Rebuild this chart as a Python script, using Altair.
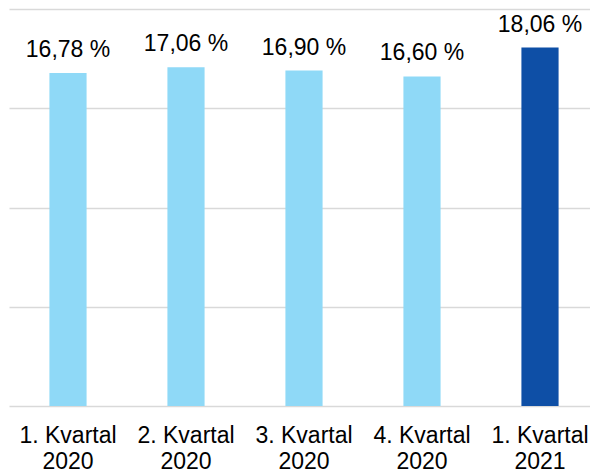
import altair as alt
import pandas as pd

quarters = ["1. Kvartal", "2. Kvartal", "3. Kvartal", "4. Kvartal", "1. Kvartal"]
years = ["2020", "2020", "2020", "2020", "2021"]
values = [16.78, 17.06, 16.90, 16.60, 18.06]
value_labels = ["16,78 %", "17,06 %", "16,90 %", "16,60 %", "18,06 %"]
y_ticks = [0, 5, 10, 15, 20]

categories = [q + "|" + y for q, y in zip(quarters, years)]
df = pd.DataFrame({
    "cat": categories,
    "year": years,
    "value": values,
    "label": value_labels,
})

x = alt.X(
    "cat:N",
    sort=categories,
    title=None,
    scale=alt.Scale(range=[0, 590], paddingInner=0.685, paddingOuter=0.3425),
    axis=alt.Axis(
        labelExpr="split(datum.label, '|')",
        labelAngle=0,
        labelFont="Liberation Sans",
        labelFontSize=23,
        labelColor="#000000",
        labelLineHeight=26,
        labelPadding=18,
        labelBaseline="top",
        ticks=False,
        domain=False,
        grid=False,
    ),
)
y = alt.Y(
    "value:Q",
    title=None,
    scale=alt.Scale(domain=[0, 20], nice=False),
    axis=alt.Axis(
        values=y_ticks,
        labels=False,
        ticks=False,
        domain=False,
        grid=True,
        gridColor="#d9d9d9",
        gridWidth=1.5,
    ),
)

bars = alt.Chart(df).mark_bar().encode(
    x=x,
    y=y,
    color=alt.Color(
        "year:N",
        scale=alt.Scale(domain=["2020", "2021"], range=["#8fd9f7", "#0e4fa6"]),
        legend=None,
    ),
)

text = alt.Chart(df).mark_text(
    font="Liberation Sans", fontSize=23, color="#000000", dy=-16, baseline="alphabetic"
).encode(x=alt.X("cat:N", sort=categories), y="value:Q", text="label:N")

chart = (bars + text).properties(
    width=581,
    height=397,
    autosize=alt.AutoSizeParams(type="none"),
    padding={"left": 1, "top": 1, "right": 0, "bottom": 70},
).configure_view(stroke=None)

chart.save("out.html", embed_options={"renderer": "svg", "actions": False})
